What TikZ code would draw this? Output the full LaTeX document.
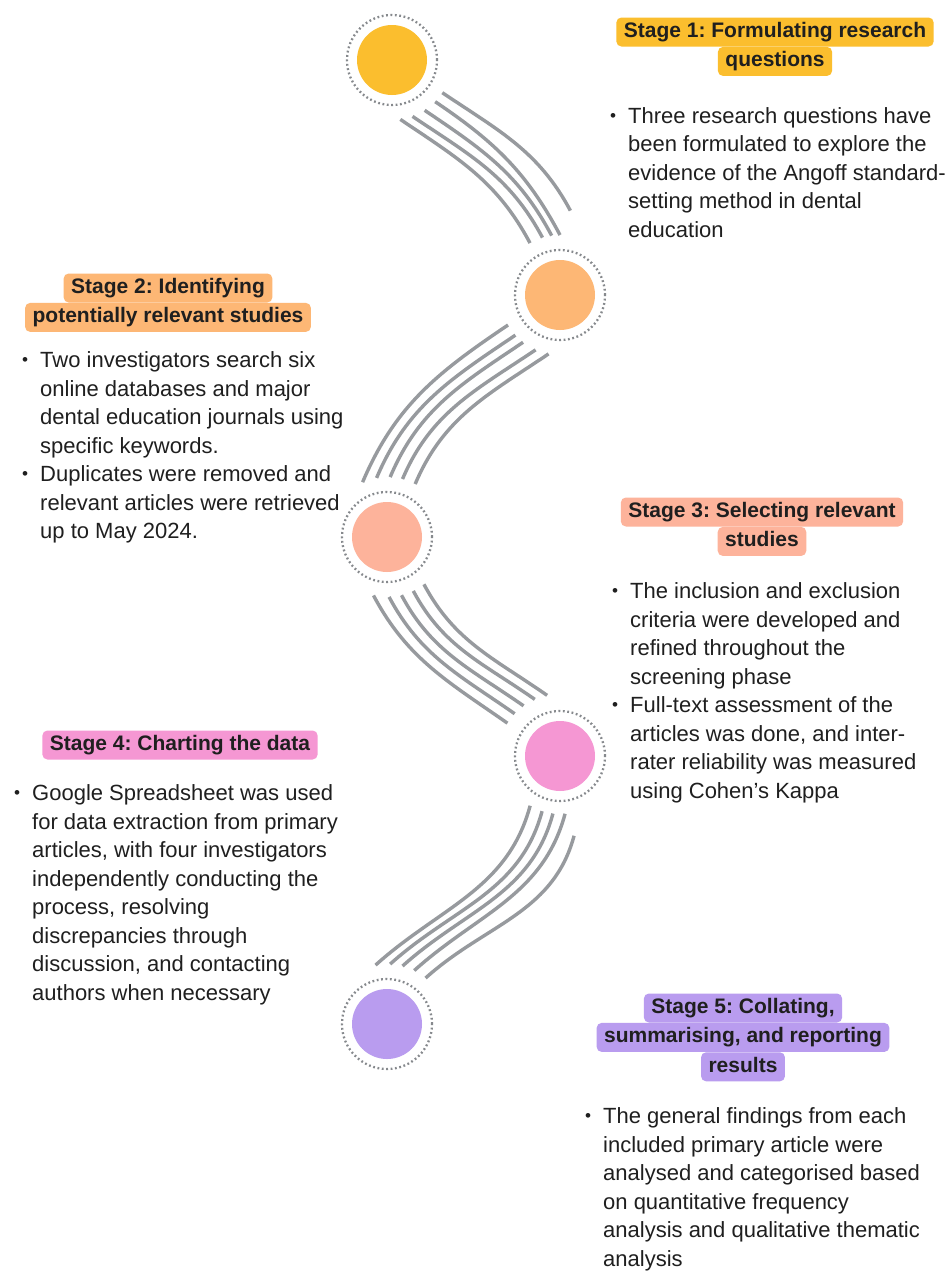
\documentclass[tikz,border=0pt]{standalone}
\usepackage{fontspec}
\setmainfont{Liberation Sans}
\usepackage{graphicx}
\usetikzlibrary{calc,positioning}
\definecolor{st1}{HTML}{FBBE2E}
\definecolor{st2}{HTML}{FDB775}
\definecolor{st3}{HTML}{FDB39B}
\definecolor{st4}{HTML}{F597D3}
\definecolor{st5}{HTML}{B99CEF}
\definecolor{wavegray}{HTML}{979A9E}
\definecolor{ringgray}{HTML}{86898D}
\definecolor{ink}{HTML}{1F1F1F}
\newcommand{\bul}{\makebox[18pt][l]{\raisebox{1.8pt}{\scalebox{0.78}{\textbullet}}}}
\newcommand{\ind}{\hspace*{18pt}}

\begin{document}
\frenchspacing
\begin{tikzpicture}[x=1pt, y=1pt,
  stage/.style={circle, inner sep=0pt, minimum size=70pt},
  ring/.style={circle, draw=ringgray, line width=2.3pt, dash pattern=on 1.8pt off 2.6pt, inner sep=0pt, minimum size=90pt},
  wave/.style={draw=wavegray, line width=3.4pt},
  head/.style={rounded corners=5pt, inner xsep=7.5pt, inner ysep=0pt, minimum height=29pt, text height=15.5pt, text depth=4.5pt, font=\fontsize{21}{25}\selectfont\bfseries, text=ink},
  body/.style={anchor=base west, inner sep=0pt, font=\fontsize{22}{28.5}\selectfont, text=ink}]

  \useasboundingbox[fill=white] (0,0) rectangle (952,-1274);

  % stage circles
  \node[stage, fill=st1] (c1) at (392,-60)   {};
  \node[stage, fill=st2] (c2) at (560,-295)  {};
  \node[stage, fill=st3] (c3) at (387,-537)  {};
  \node[stage, fill=st4] (c4) at (560,-756)  {};
  \node[stage, fill=st5] (c5) at (387,-1024) {};
  \foreach \i in {1,...,5}
    \node[ring] (r\i) at (c\i) {};

  % waves between the circles
  \foreach \a/\b in {-82/120, -70/107, -57/98, -44/90}
    \draw[wave] ($(c1)+(\a:60)$) to[out=-34, in=118] ($(c2)+(\b:60)$);
  \draw[wave] ($(c1)+(-33:60)$) to[out=-34, in=118] ($(c2)+(83:85)$);
  \foreach \a/\b in {210/114, 222/100, 232/87, 246/75, 259/62}
    \draw[wave] ($(c2)+(\a:60)$) to[out=214, in=67] ($(c3)+(\b:60)$);
  \foreach \a/\b in {-103/148, -88/137, -76/126, -64/114, -52/102}
    \draw[wave] ($(c3)+(\a:60)$) to[out=-62, in=145] ($(c4)+(\b:62)$);
  \foreach \a/\b in {-121/101, -108/87, -97/75, -85/63}
    \draw[wave] ($(c4)+(\a:58)$) to[out=-105, in=42] ($(c5)+(\b:60)$);
  \draw[wave] ($(c4)+(-80:81)$) to[out=-105, in=42] ($(c5)+(50:60)$);

  % stage 1
  \node[head, fill=st1] (h1a) at (775,-32) {Stage 1: Formulating research};
  \node[head, fill=st1, below=0pt of h1a] (h1b) {questions};
  \node[body] (t1) at (610,-123) {\parbox[t]{340pt}{\bul Three research questions have\\
    \ind been formulated to explore the\\
    \ind evidence of the Angoff standard-\\
    \ind setting method in dental\\
    \ind education}};

  % stage 2
  \node[head, fill=st2] (h2a) at (168,-288) {Stage 2: Identifying};
  \node[head, fill=st2, below=0pt of h2a] (h2b) {potentially relevant studies};
  \node[body] (t2) at (22,-367.5) {\parbox[t]{340pt}{\bul Two investigators search six\\
    \ind online databases and major\\
    \ind dental education journals using\\
    \ind specific keywords.\\
    \bul Duplicates were removed and\\
    \ind relevant articles were retrieved\\
    \ind up to May 2024.}};

  % stage 3
  \node[head, fill=st3] (h3a) at (762,-512) {Stage 3: Selecting relevant};
  \node[head, fill=st3, below=0pt of h3a] (h3b) {studies};
  \node[body] (t3) at (612,-598.5) {\parbox[t]{340pt}{\bul The inclusion and exclusion\\
    \ind criteria were developed and\\
    \ind refined throughout the\\
    \ind screening phase\\
    \bul Full-text assessment of the\\
    \ind articles was done, and inter-\\
    \ind rater reliability was measured\\
    \ind using Cohen's Kappa}};

  % stage 4
  \node[head, fill=st4] (h4a) at (180,-745) {Stage 4: Charting the data};
  \node[body] (t4) at (14,-800.5) {\parbox[t]{340pt}{\bul Google Spreadsheet was used\\
    \ind for data extraction from primary\\
    \ind articles, with four investigators\\
    \ind independently conducting the\\
    \ind process, resolving\\
    \ind discrepancies through\\
    \ind discussion, and contacting\\
    \ind authors when necessary}};

  % stage 5
  \node[head, fill=st5] (h5a) at (743,-1008) {Stage 5: Collating,};
  \node[head, fill=st5, below=0pt of h5a] (h5b) {summarising, and reporting};
  \node[head, fill=st5, below=0pt of h5b] (h5c) {results};
  \node[body] (t5) at (585,-1123.5) {\parbox[t]{340pt}{\bul The general findings from each\\
    \ind included primary article were\\
    \ind analysed and categorised based\\
    \ind on quantitative frequency\\
    \ind analysis and qualitative thematic\\
    \ind analysis}};
\end{tikzpicture}
\end{document}
